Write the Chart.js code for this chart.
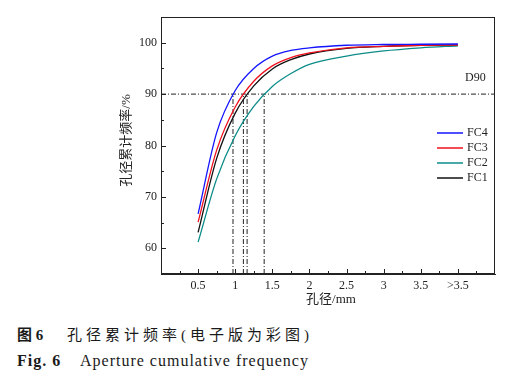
<!DOCTYPE html>
<html lang="zh">
<head>
<meta charset="UTF-8">
<title>孔径累计频率</title>
<script src="https://cdn.jsdelivr.net/npm/chart.js"></script>
<style>
    body { margin: 0; background: #fff; width: 528px; height: 380px; position: relative; overflow: hidden; }
    #chart { position: absolute; left: 0; top: 0; }
    .cap { position: absolute; color: #1a1a1a; white-space: nowrap; font-family: "Liberation Serif", "Noto Sans CJK SC", serif; }
    .b { font-weight: bold; }
</style>
</head>
<body>
    <canvas id="chart" width="528" height="318"></canvas>

    <!-- caption -->
    <div class="cap b" style="left:17px; top:325px; font-size:15px; line-height:20px;">图 6</div>
    <div class="cap" style="left:67px; top:325px; font-size:15px; line-height:20px; letter-spacing:4px;">孔径累计频率(电子版为彩图)</div>
    <div class="cap b" style="left:17px; top:351px; font-size:16px; line-height:20px; letter-spacing:1px;">Fig. 6</div>
    <div class="cap" style="left:80px; top:351px; font-size:16px; line-height:20px; letter-spacing:1px;">Aperture cumulative frequency</div>

<script>
    // pore diameter (mm) where the curves were read
    const poreSize = [0.5, 0.75, 1, 1.25, 1.5, 1.75, 2, 2.5, 3, 3.5, 4];
    // cumulative frequency (%)
    const fc4 = [66.7, 82.5, 90.7, 95.0, 97.4, 98.5, 99.0, 99.5, 99.65, 99.7, 99.75];
    const fc3 = [65.1, 79.1, 87.5, 92.5, 95.5, 97.1, 98.0, 99.0, 99.3, 99.5, 99.55];
    const fc2 = [61.2, 73.5, 81.9, 87.6, 91.5, 94.0, 95.8, 97.4, 98.4, 99.0, 99.4];
    const fc1 = [63.1, 77.5, 86.3, 91.6, 94.9, 96.7, 97.8, 98.9, 99.3, 99.5, 99.55];

    // D90 of each sample (FC4, FC3, FC1, FC2)
    const d90Level = 90;
    const d90Sizes = [0.97, 1.11, 1.16, 1.39];

    const xTicks = [0.5, 1, 1.5, 2, 2.5, 3, 3.5, 4];
    const xTickLabels = ['0.5', '1', '1.5', '2', '2.5', '3', '3.5', '>3.5'];
    const yTicks = [60, 70, 80, 90, 100];

    const xTitle = '孔径/mm';
    const yTitle = '孔径累计频率/%';

    const series = [
        { label: 'FC4', values: fc4, color: '#1414ff' },
        { label: 'FC3', values: fc3, color: '#f0101c' },
        { label: 'FC2', values: fc2, color: '#0b8c88' },
        { label: 'FC1', values: fc1, color: '#111111' }
    ];

    const dashDot = [5, 2, 1, 2];
    const datasets = series.map(s => ({
        label: s.label,
        data: poreSize.map((x, i) => ({ x: x, y: s.values[i] })),
        borderColor: s.color,
        borderWidth: 1.3,
        pointRadius: 0,
        cubicInterpolationMode: 'monotone',
        fill: false
    }));

    // horizontal D90 line
    datasets.push({
        label: 'D90',
        data: [{ x: 0, y: d90Level }, { x: 4.5, y: d90Level }],
        borderColor: '#222',
        borderWidth: 1,
        borderDash: dashDot,
        pointRadius: 0
    });
    // vertical drops to the axis
    d90Sizes.forEach(d => {
        datasets.push({
            label: 'D90',
            data: [{ x: d, y: 55 }, { x: d, y: d90Level }],
            borderColor: '#222',
            borderWidth: 1,
            borderDash: dashDot,
            pointRadius: 0
        });
    });

    const serif = '"Liberation Serif", "Noto Sans CJK SC", serif';

    const extras = {
        id: 'extras',
        afterDraw(chart) {
            const { ctx, chartArea: a, scales: { x, y } } = chart;
            ctx.save();
            ctx.strokeStyle = '#222';
            ctx.lineWidth = 1;
            ctx.strokeRect(a.left + 0.5, a.top + 0.5, a.right - a.left - 1, a.bottom - a.top - 1);

            // inward ticks, major and minor
            ctx.beginPath();
            for (let v = 0.25; v < 4.5; v += 0.25) {
                const px = Math.round(x.getPixelForValue(v)) + 0.5;
                const len = Math.abs(v * 2 - Math.round(v * 2)) < 1e-6 ? 5 : 3;
                ctx.moveTo(px, a.bottom);
                ctx.lineTo(px, a.bottom - len);
            }
            for (let v = 60; v < 105; v += 5) {
                const py = Math.round(y.getPixelForValue(v)) + 0.5;
                const len = v % 10 === 0 ? 5 : 3;
                ctx.moveTo(a.left, py);
                ctx.lineTo(a.left + len, py);
            }
            ctx.stroke();

            // axis titles
            ctx.fillStyle = '#222';
            ctx.font = '13px ' + serif;
            ctx.textAlign = 'center';
            ctx.textBaseline = 'middle';
            ctx.fillText(xTitle, (a.left + a.right) / 2 + 3, 300);
            ctx.save();
            ctx.translate(127, (a.top + a.bottom) / 2 - 5);
            ctx.rotate(-Math.PI / 2);
            ctx.fillText(yTitle, 0, 0);
            ctx.restore();

            // D90 label
            ctx.font = '12px ' + serif;
            ctx.textAlign = 'left';
            ctx.fillText('D90', a.right - 30, y.getPixelForValue(d90Level) - 16);

            // legend inside the plot
            series.forEach((s, i) => {
                const ly = 133 + i * 15;
                ctx.strokeStyle = s.color;
                ctx.lineWidth = 1.5;
                ctx.beginPath();
                ctx.moveTo(a.right - 58, ly);
                ctx.lineTo(a.right - 32, ly);
                ctx.stroke();
                ctx.fillText(s.label, a.right - 28, ly);
            });
            ctx.restore();
        }
    };

    Chart.defaults.font.family = serif;
    Chart.defaults.font.size = 12;
    Chart.defaults.color = '#222';

    new Chart(document.getElementById('chart'), {
        type: 'line',
        data: { datasets: datasets },
        options: {
            responsive: false,
            animation: false,
            devicePixelRatio: 1,
            layout: { padding: { top: 17, right: 33, left: 0, bottom: 0 } },
            plugins: {
                legend: { display: false },
                tooltip: { enabled: false }
            },
            scales: {
                x: {
                    type: 'linear',
                    min: 0,
                    max: 4.5,
                    afterFit: s => { s.height = 44; },
                    afterBuildTicks: s => { s.ticks = xTicks.map(v => ({ value: v })); },
                    grid: { display: false, drawTicks: false },
                    border: { display: true, color: '#222' },
                    ticks: {
                        padding: 5,
                        maxRotation: 0,
                        autoSkip: false,
                        callback: v => {
                            const i = xTicks.indexOf(v);
                            return i >= 0 ? xTickLabels[i] : '';
                        }
                    }
                },
                y: {
                    min: 55,
                    max: 105,
                    afterFit: s => { s.width = 161; },
                    afterBuildTicks: s => { s.ticks = yTicks.map(v => ({ value: v })); },
                    grid: { display: false, drawTicks: false },
                    border: { display: true, color: '#222' },
                    ticks: { padding: 4 }
                }
            }
        },
        plugins: [extras]
    });
</script>
</body>
</html>
